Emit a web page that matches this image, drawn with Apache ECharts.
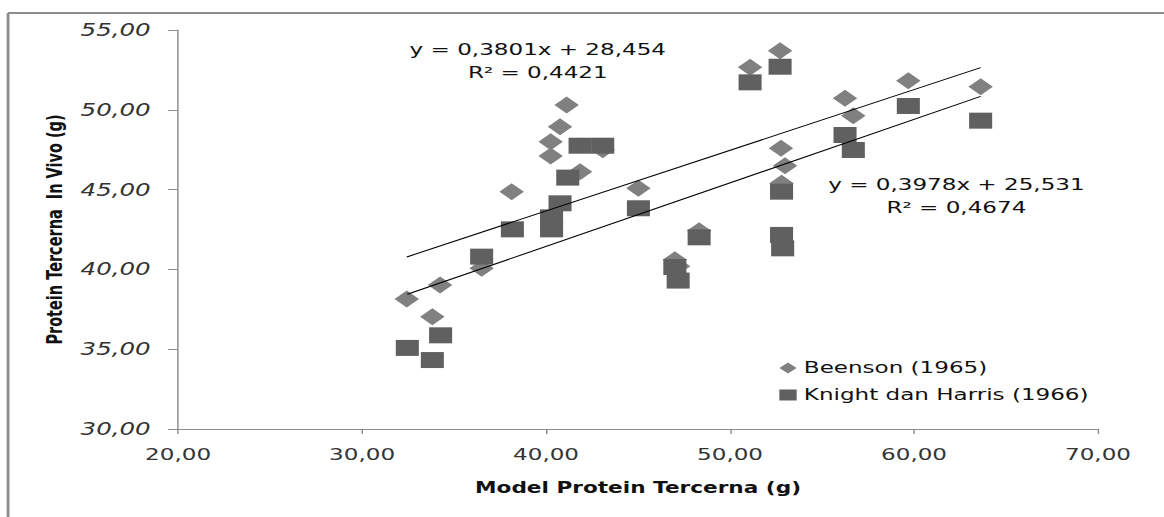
<!DOCTYPE html>
<html>
<head>
<meta charset="utf-8">
<script src="https://cdn.jsdelivr.net/npm/echarts@6/dist/echarts.min.js"></script>
<style>
html,body{margin:0;padding:0;background:#fff;}
#wrap{width:1164px;height:517px;overflow:hidden;position:relative;}
#chart{width:808px;height:517px;transform:scaleX(1.4406);transform-origin:0 0;}
</style>
</head>
<body>
<div id="wrap"><div id="chart"></div></div>
<script>
// Data
const seriesNames = ['Beenson (1965)', 'Knight dan Harris (1966)'];
const beensonX = [32.43, 33.82, 34.24, 36.50, 38.13, 40.25, 40.25, 40.76, 41.12, 41.85, 43.08, 45.02, 47.00, 47.18, 48.32, 51.09, 52.72, 52.77, 52.99, 52.80, 56.25, 56.70, 59.69, 63.62];
const beensonY = [38.15, 37.04, 39.02, 40.07, 44.87, 47.10, 48.00, 48.94, 50.30, 46.12, 47.49, 45.08, 40.60, 40.20, 42.42, 52.66, 53.70, 47.59, 46.50, 45.40, 50.72, 49.63, 51.82, 51.45];
const knightX = [32.46, 33.82, 34.27, 36.50, 38.17, 40.30, 40.30, 40.76, 41.18, 41.85, 43.08, 45.02, 47.00, 47.18, 48.32, 51.09, 52.72, 52.80, 52.80, 52.86, 56.25, 56.70, 59.69, 63.62];
const knightY = [35.08, 34.32, 35.87, 40.80, 42.51, 42.51, 43.26, 44.14, 45.75, 47.75, 47.75, 43.83, 40.15, 39.30, 42.01, 51.72, 52.70, 44.87, 42.16, 41.32, 48.42, 47.48, 50.24, 49.32];
// Trendline end points (as drawn in the reference)
const trendBeensonX = [32.43, 63.62];
const trendBeensonY = [40.78, 52.64];
const trendKnightX = [32.46, 63.62];
const trendKnightY = [38.44, 50.84];
const eqBeenson = ['y = 0,3801x + 28,454', 'R² = 0,4421'];
const eqKnight = ['y = 0,3978x + 25,531', 'R² = 0,4674'];
const xTicks = {min: 20, max: 70, interval: 10};
const yTicks = {min: 30, max: 55, interval: 5};
const xTitle = 'Model Protein Tercerna (g)';
const yTitle = 'Protein Tercerna  In Vivo (g)';

const zip = (a, b) => a.map((v, i) => [v, b[i]]);
const fmt = v => v.toFixed(2).replace('.', ',');
const FONT = 'DejaVu Sans';

const chart = echarts.init(document.getElementById('chart'), null, {renderer: 'svg'});
chart.setOption({
  animation: false,
  backgroundColor: '#fff',
  grid: {left: 123.6, right: 45.8, top: 30, bottom: 88},
  xAxis: {
    type: 'value', min: xTicks.min, max: xTicks.max, interval: xTicks.interval,
    name: xTitle, nameLocation: 'middle', nameGap: 51,
    nameTextStyle: {fontFamily: FONT, fontWeight: 'bold', fontSize: 15, color: '#111'},
    axisLine: {show: true, lineStyle: {color: '#8c8c8c', width: 1}},
    axisTick: {show: true, inside: false, length: 5, lineStyle: {color: '#8c8c8c'}},
    axisLabel: {formatter: fmt, fontFamily: FONT, fontSize: 16, color: '#333', margin: 18},
    splitLine: {show: false}
  },
  yAxis: {
    type: 'value', min: yTicks.min, max: yTicks.max, interval: yTicks.interval,
    name: yTitle, nameLocation: 'middle', nameGap: 76, nameRotate: 90,
    nameTextStyle: {fontFamily: FONT, fontWeight: 'bold', fontSize: 14.5, color: '#111'},
    axisLine: {show: true, lineStyle: {color: '#8c8c8c', width: 1}},
    axisTick: {show: true, inside: false, length: 7, lineStyle: {color: '#8c8c8c'}},
    axisLabel: {formatter: fmt, fontFamily: FONT, fontStyle: 'italic', fontSize: 17, color: '#333', margin: 19},
    splitLine: {show: false}
  },
  legend: {
    orient: 'vertical', left: 536, top: 354, itemWidth: 12, itemHeight: 11, itemGap: 9,
    textStyle: {fontFamily: FONT, fontSize: 16, color: '#111', lineHeight: 18},
    data: [{name: seriesNames[0], icon: 'diamond'}, {name: seriesNames[1], icon: 'rect'}]
  },
  graphic: [
    {type: 'line', shape: {x1: 5.6, y1: 13, x2: 808, y2: 13}, style: {stroke: '#8c8c8c', lineWidth: 2}},
    {type: 'line', shape: {x1: 5.6, y1: 13, x2: 5.6, y2: 517}, style: {stroke: '#8c8c8c', lineWidth: 2}},
    {type: 'text', x: 373.3, y: 50, style: {text: eqBeenson[0], font: '16px "DejaVu Sans"', fill: '#111', textAlign: 'center', textVerticalAlign: 'middle'}},
    {type: 'text', x: 373.3, y: 73, style: {text: eqBeenson[1], font: '16px "DejaVu Sans"', fill: '#111', textAlign: 'center', textVerticalAlign: 'middle'}},
    {type: 'text', x: 663.9, y: 185, style: {text: eqKnight[0], font: '16px "DejaVu Sans"', fill: '#111', textAlign: 'center', textVerticalAlign: 'middle'}},
    {type: 'text', x: 663.9, y: 208, style: {text: eqKnight[1], font: '16px "DejaVu Sans"', fill: '#111', textAlign: 'center', textVerticalAlign: 'middle'}}
  ],
  series: [
    {name: seriesNames[0], type: 'scatter', symbol: 'diamond', symbolSize: 17, data: zip(beensonX, beensonY), itemStyle: {color: '#808080', opacity: 1}, z: 2},
    {name: seriesNames[1], type: 'scatter', symbol: 'rect', symbolSize: 16, data: zip(knightX, knightY), itemStyle: {color: '#606060', opacity: 1}, z: 3},
    {name: 'trendB', type: 'line', data: zip(trendBeensonX, trendBeensonY), symbol: 'none', lineStyle: {color: '#000', width: 1}, z: 4, silent: true},
    {name: 'trendK', type: 'line', data: zip(trendKnightX, trendKnightY), symbol: 'none', lineStyle: {color: '#000', width: 1}, z: 4, silent: true}
  ]
});
</script>
</body>
</html>
